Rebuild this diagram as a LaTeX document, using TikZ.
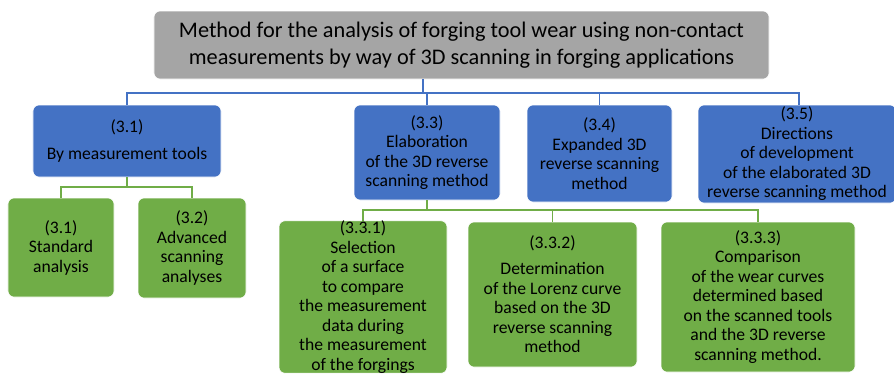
\documentclass[tikz,border=0pt]{standalone}
\usepackage{fontspec}
\setmainfont{Carlito}
\definecolor{topgray}{HTML}{A5A5A5}
\definecolor{obl}{HTML}{4472C4}
\definecolor{ogr}{HTML}{70AD47}
\begin{document}
\begin{tikzpicture}[x=1bp,y=-1bp,
  box/.style={rounded corners=6bp, draw=white, line width=0.6bp, align=center, inner sep=0pt, text=black},
  topbox/.style={box, fill=topgray, font=\fontsize{22.3bp}{27.5bp}\selectfont},
  bluebox/.style={box, fill=obl, font=\fontsize{17.6bp}{19.5bp}\selectfont},
  greenbox/.style={box, fill=ogr, font=\fontsize{17.6bp}{19.5bp}\selectfont},
  blueline/.style={draw=obl, line width=1.8bp},
  greenline/.style={draw=ogr, line width=1.8bp}]
\useasboundingbox (0,0) rectangle (894,374);
\begin{scope}
\clip (0,0) rectangle (894,374);
% top
\node[topbox, minimum width=615bp, minimum height=68bp] (top) at (461.5,45)
 {Method for the analysis of forging tool wear using non-contact\\measurements by way of 3D scanning in forging applications};
% blue level
\node[bluebox, minimum width=188bp, minimum height=72bp] (b31) at (127,141)
 {(3.1)\\[7.5bp]By measurement tools};
\node[bluebox, minimum width=146bp, minimum height=95bp] (b33) at (427,152.5)
 {(3.3)\\Elaboration\\of the 3D reverse\\scanning method};
\node[bluebox, minimum width=145bp, minimum height=97bp] (b34) at (599.5,153.5)
 {(3.4)\\Expanded 3D\\reverse scanning\\method};
\node[bluebox, minimum width=198bp, minimum height=98bp] (b35) at (797,154)
 {(3.5)\\Directions\\of development\\of the elaborated 3D\\reverse scanning method};
% green level
\node[greenbox, minimum width=106bp, minimum height=99bp] (g31) at (61,247.5)
 {(3.1)\\Standard\\analysis};
\node[greenbox, minimum width=108bp, minimum height=100bp] (g32) at (192,248)
 {(3.2)\\Advanced\\scanning\\analyses};
\node[greenbox, minimum width=168bp, minimum height=150bp] (g331) at (363,297)
 {(3.3.1)\\Selection\\of a surface\\to compare\\the measurement\\data during\\the measurement\\of the forgings};
\node[greenbox, minimum width=169bp, minimum height=145bp] (g332) at (552.5,294.5)
 {(3.3.2)\\[6.5bp]Determination\\of the Lorenz curve\\based on the 3D\\reverse scanning\\method};
\node[greenbox, minimum width=194bp, minimum height=150bp] (g333) at (758,297)
 {(3.3.3)\\Comparison\\of the wear curves\\determined based\\on the scanned tools\\and the 3D reverse\\scanning method.};
% connectors
\coordinate (bus) at (423,93);
\coordinate (gbus1) at (127,187);
\coordinate (gbus2) at (427,210);
\draw[blueline] (top.south -| bus) -- (bus);
\draw[blueline] (b31.north) -- (b31.north |- bus) -- (799,93) coordinate (busR) -- (busR |- b35.north);
\draw[blueline] (b33.north |- bus) -- (b33.north);
\draw[blueline] (b34.north |- bus) -- (b34.north);
\draw[greenline] (b31.south) -- (gbus1);
\draw[greenline] (g31.north) -- (g31.north |- gbus1) -- (g32.north |- gbus1) -- (g32.north);
\draw[greenline] (b33.south) -- (gbus2);
\draw[greenline] (g331.north) -- (g331.north |- gbus2) -- (g333.north |- gbus2) -- (g333.north);
\draw[greenline] (g332.north |- gbus2) -- (g332.north);
\end{scope}
\end{tikzpicture}
\end{document}
